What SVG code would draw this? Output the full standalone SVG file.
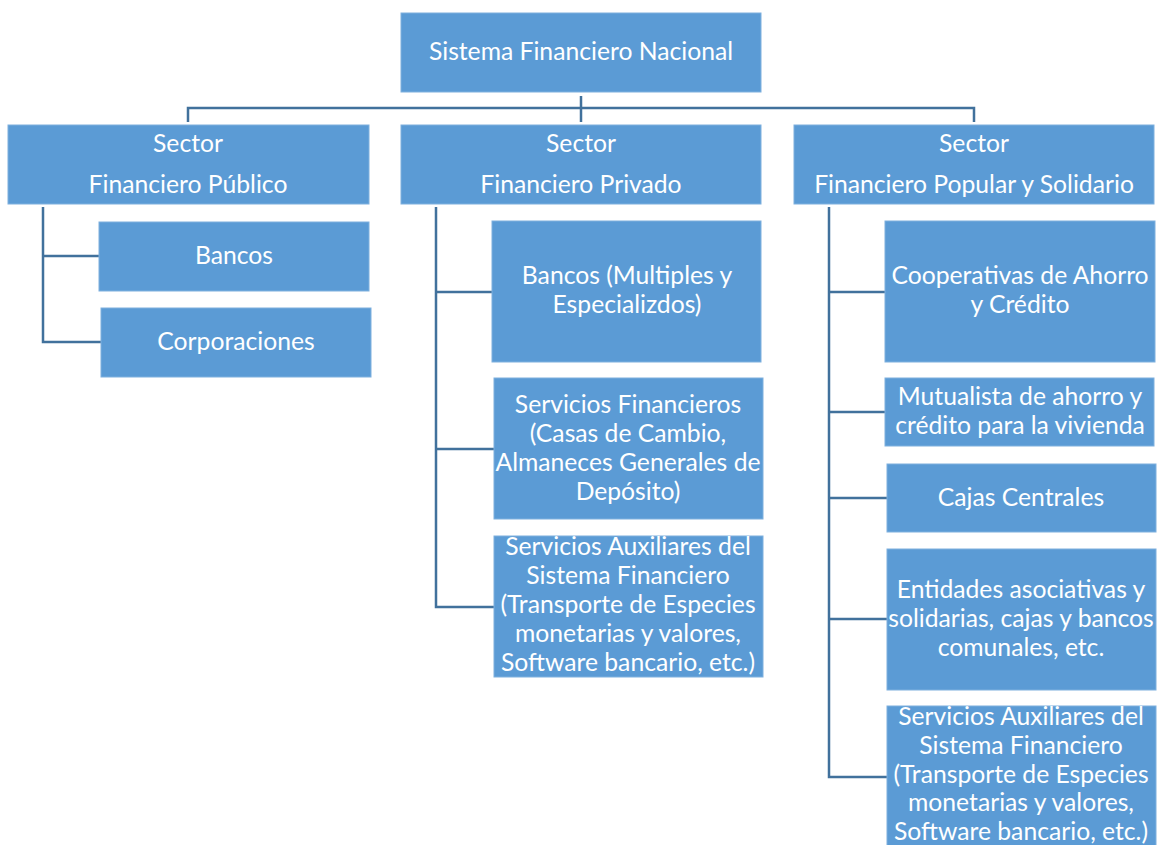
<svg xmlns="http://www.w3.org/2000/svg" width="1157" height="845" viewBox="0 0 1157 845">
<style>
.box{fill:#5B9BD5;stroke:#7EB0DE;stroke-width:1}
.t{font-family:Lato,"Open Sans",sans-serif;font-size:24.7px;fill:#FFFFFF;text-anchor:middle}
.c{fill:none;stroke:#41719C;stroke-width:2.5}
</style>
<rect width="1157" height="845" fill="#FFFFFF"/>
<g id="connectors">
<path class="c" d="M188,122 V108 H974 V122 M581,96 V122"/>
<path class="c" d="M43,207 V342 H101 M43,256 H99"/>
<path class="c" d="M436,207 V607 H494 M436,292 H492 M436,449 H494"/>
<path class="c" d="M829,207 V777 H887 M829,292 H885 M829,412 H885 M829,498 H887 M829,619 H887"/>
</g>
<g id="n-root"><rect class="box" x="401" y="13" width="360" height="79"/><text class="t" x="581" y="60">Sistema Financiero Nacional</text></g>
<g id="n-publico"><rect class="box" x="8" y="125" width="361" height="79"/><text class="t" x="188" y="152">Sector</text><text class="t" x="188" y="193">Financiero Público</text></g>
<g id="n-privado"><rect class="box" x="401" y="125" width="360" height="79"/><text class="t" x="581" y="152">Sector</text><text class="t" x="581" y="193">Financiero Privado</text></g>
<g id="n-popular"><rect class="box" x="794" y="125" width="360" height="79"/><text class="t" x="974" y="152">Sector</text><text class="t" x="974" y="193">Financiero Popular y Solidario</text></g>
<g id="n-bancos-pub"><rect class="box" x="99" y="222" width="270" height="69"/><text class="t" x="234" y="264">Bancos</text></g>
<g id="n-corporaciones"><rect class="box" x="101" y="308" width="270" height="69"/><text class="t" x="236" y="350">Corporaciones</text></g>
<g id="n-bancos-priv"><rect class="box" x="492" y="221" width="269" height="141"/><text class="t" x="627" y="284">Bancos (Multiples y</text><text class="t" x="627" y="313">Especializdos)</text></g>
<g id="n-serv-fin"><rect class="box" x="494" y="378" width="269" height="141"/><text class="t" x="628" y="413">Servicios Financieros</text><text class="t" x="628" y="442">(Casas de Cambio,</text><text class="t" x="628" y="471">Almaneces Generales de</text><text class="t" x="628" y="500">Depósito)</text></g>
<g id="n-serv-aux-priv"><rect class="box" x="494" y="536" width="269" height="141"/><text class="t" x="628" y="555">Servicios Auxiliares del</text><text class="t" x="628" y="584">Sistema Financiero</text><text class="t" x="628" y="613">(Transporte de Especies</text><text class="t" x="628" y="642">monetarias y valores,</text><text class="t" x="628" y="671">Software bancario, etc.)</text></g>
<g id="n-cooperativas"><rect class="box" x="885" y="221" width="270" height="141"/><text class="t" x="1020" y="284">Cooperativas de Ahorro</text><text class="t" x="1020" y="313">y Crédito</text></g>
<g id="n-mutualista"><rect class="box" x="885" y="378" width="269" height="68"/><text class="t" x="1020" y="405">Mutualista de ahorro y</text><text class="t" x="1020" y="434">crédito para la vivienda</text></g>
<g id="n-cajas"><rect class="box" x="887" y="464" width="269" height="68"/><text class="t" x="1021" y="506">Cajas Centrales</text></g>
<g id="n-entidades"><rect class="box" x="887" y="549" width="269" height="141"/><text class="t" x="1021" y="598">Entidades asociativas y</text><text class="t" x="1021" y="627">solidarias, cajas y bancos</text><text class="t" x="1021" y="656">comunales, etc.</text></g>
<g id="n-serv-aux-pop"><rect class="box" x="887" y="706" width="269" height="145"/><text class="t" x="1021" y="725">Servicios Auxiliares del</text><text class="t" x="1021" y="754">Sistema Financiero</text><text class="t" x="1021" y="783">(Transporte de Especies</text><text class="t" x="1021" y="811">monetarias y valores,</text><text class="t" x="1021" y="840">Software bancario, etc.)</text></g>
</svg>
